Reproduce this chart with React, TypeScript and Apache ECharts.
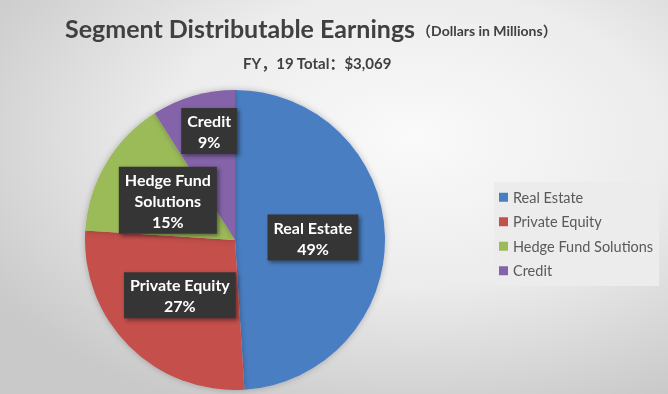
import React, { useEffect, useRef } from "react";
import * as echarts from "echarts";

const categories = ["Real Estate", "Private Equity", "Hedge Fund Solutions", "Credit"];
const shares = [49, 27, 15, 9];
const labelNames = ["Real Estate", "Private Equity", "Hedge Fund\nSolutions", "Credit"];
const colors = ["#4a7ec2", "#c4504c", "#9bbb59", "#8464a8"];
const titleMain = "Segment Distributable Earnings";
const titleUnit = "（Dollars in Millions）";
const subtitle = "FY，19 Total：$3,069";

const FONT = "Lato, 'Noto Sans CJK SC', sans-serif";

export default function App() {
  const ref = useRef<HTMLDivElement>(null);
  useEffect(() => {
    if (!ref.current) return;
    const chart = echarts.init(ref.current, null, { renderer: "svg" });
    chart.setOption({
      animation: false,
      backgroundColor: new echarts.graphic.RadialGradient(0.62, 0.35, 0.75, [
        { offset: 0, color: "#fafafa" },
        { offset: 0.5, color: "#ececec" },
        { offset: 1, color: "#c9c9c9" },
      ]),
      title: [
        {
          text: `{a|${titleMain}}{b|${titleUnit}}`,
          left: 60,
          top: 10,
          textStyle: {
            rich: {
              a: { fontSize: 25, fontWeight: "bold", color: "#404040", fontFamily: FONT },
              b: { fontSize: 14, fontWeight: "bold", color: "#404040", fontFamily: FONT, padding: [5, 0, 0, 2] },
            },
          },
        },
        {
          text: subtitle,
          left: 238,
          top: 50,
          textStyle: { fontSize: 15, fontWeight: "bold", color: "#404040", fontFamily: FONT },
        },
      ],
      legend: {
        orient: "vertical",
        left: 494,
        top: 182,
        padding: [8, 6, 8, 5],
        backgroundColor: "#ececec",
        itemWidth: 9,
        itemHeight: 9,
        itemGap: 10,
        icon: "rect",
        textStyle: { fontSize: 14.5, color: "#595959", fontFamily: FONT },
        data: categories,
      },
      series: [
        {
          type: "pie",
          center: [235, 240],
          radius: 150,
          startAngle: 90,
          clockwise: true,
          color: colors,
          itemStyle: { shadowColor: "rgba(0,0,0,0.25)", shadowBlur: 6 },
          label: {
            show: true,
            position: "inside",
            formatter: (p: any) => `${labelNames[p.dataIndex]}\n${Math.round(p.percent)}%`,
            color: "#ffffff",
            fontWeight: "bold",
            fontSize: 16,
            lineHeight: 21,
            fontFamily: FONT,
            backgroundColor: "#353535",
            padding: [2, 6],
            shadowColor: "rgba(0,0,0,0.45)",
            shadowBlur: 4,
            shadowOffsetX: 2,
            shadowOffsetY: 2,
          },
          labelLayout: (p: any) => (p.dataIndex === 3 ? { dx: -4, dy: -34 } : {}),
          emphasis: { disabled: true },
          data: categories.map((name, i) => ({ name, value: shares[i] })),
        },
      ],
    });
    return () => chart.dispose();
  }, []);
  return <div ref={ref} style={{ position: "fixed", left: 0, top: 0, width: 668, height: 394 }} />;
}
